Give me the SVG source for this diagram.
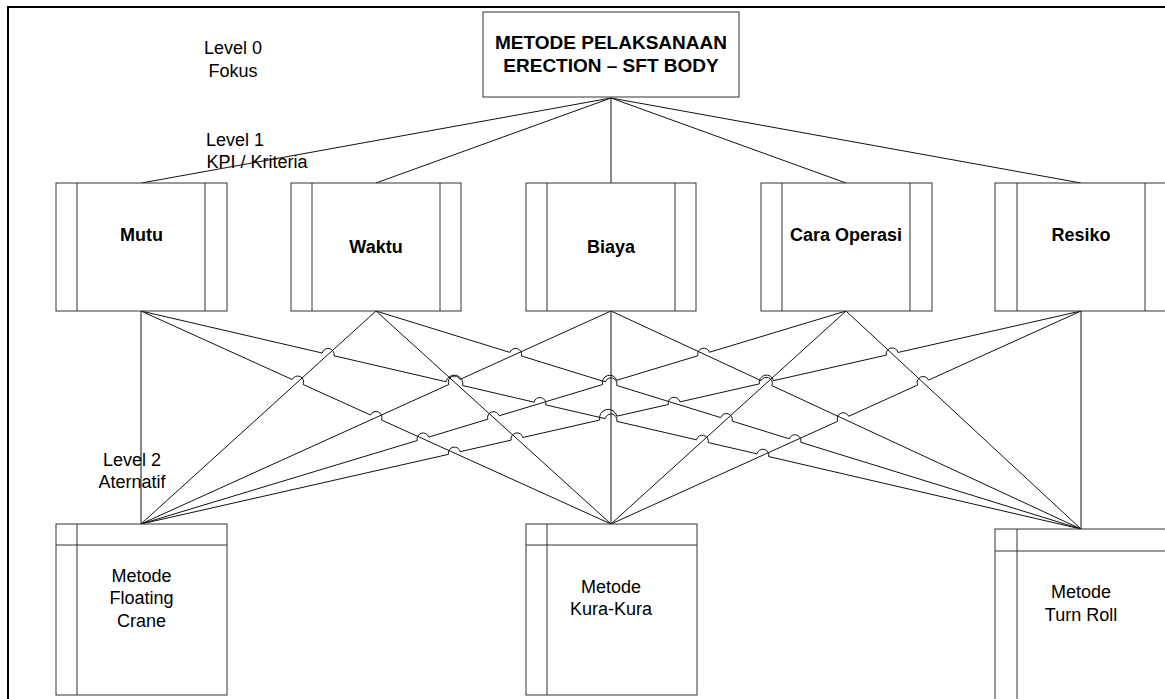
<svg xmlns="http://www.w3.org/2000/svg" width="1165" height="699" viewBox="0 0 1165 699">
<style>
.frame{fill:none;stroke:#000;stroke-width:2}
.box{fill:#fff;stroke:#333;stroke-width:1}
.div{fill:none;stroke:#333;stroke-width:1}
.ln{fill:none;stroke:#111;stroke-width:1}
.lbl{font-family:"Liberation Sans",Arial,sans-serif;font-size:18px;fill:#000;text-anchor:middle}
.b{font-weight:bold}
</style>
<rect width="1165" height="699" fill="#fff"/>
<rect class="frame" x="8" y="7" width="1170" height="700"/>

<g id="labels">
<text class="lbl" x="233" y="54">Level 0</text>
<text class="lbl" x="233" y="77">Fokus</text>
<text class="lbl" x="235" y="146">Level 1</text>
<text class="lbl" x="257" y="168">KPI / Kriteria</text>
<text class="lbl" x="132" y="466">Level 2</text>
<text class="lbl" x="132" y="488">Aternatif</text>
</g>

<g id="connectors">
<path class="ln" d="M611 98L141.5 183M611 98L376 183M611 98L611 183M611 98L846 183M611 98L1081 183"/>
<path class="ln" d="M141 311L141 524"/>
<path class="ln" d="M141 311L292.2 379.52A6 6 0 0 1 303.14 384.48L370.53 415.02A6 6 0 0 1 381.47 419.98L611 524"/>
<path class="ln" d="M141 311L322.28 353.04A6 6 0 0 1 333.97 355.76L446.06 381.74A8.51 8.51 0 0 1 462.65 385.56L534 402.14A6 6 0 0 1 545.69 404.86L605.16 418.64A6 6 0 0 1 616.85 421.36L696.53 439.84A6 6 0 0 1 708.22 442.56L756.98 453.84A6 6 0 0 1 768.67 456.56L1081 529"/>
<path class="ln" d="M376 311L141 524"/>
<path class="ln" d="M376 311L611 524"/>
<path class="ln" d="M376 311L509.96 352.43A6 6 0 0 1 521.42 355.97L605.27 381.9A6 6 0 0 1 616.73 385.44L720.72 417.6A6 6 0 0 1 732.18 421.14L789.34 438.81A6 6 0 0 1 800.8 442.35L1081 529"/>
<path class="ln" d="M141 524L448.87 384.48A6 6 0 0 1 459.8 379.52L611 311"/>
<path class="ln" d="M611 311L611 524"/>
<path class="ln" d="M611 311L761.01 380.58A6 6 0 0 1 771.89 385.62L1081 529"/>
<path class="ln" d="M141 524L417.26 440.54A6 6 0 0 1 428.74 437.07L487.76 419.24A6 6 0 0 1 499.24 415.77L602.54 384.55A7.42 7.42 0 0 1 616.74 380.27L697.95 355.74A6 6 0 0 1 709.43 352.26L846 311"/>
<path class="ln" d="M846 311L611 524"/>
<path class="ln" d="M846 311L1081 529"/>
<path class="ln" d="M141 524L448.48 454.33A6 6 0 0 1 460.18 451.67L511.15 440.13A6 6 0 0 1 522.85 437.47L599.7 420.05A8.79 8.79 0 0 1 616.85 416.17L668.29 404.52A6 6 0 0 1 679.99 401.86L759.4 383.88A7.24 7.24 0 0 1 773.52 380.67L886.28 355.13A6 6 0 0 1 897.98 352.47L1081 311"/>
<path class="ln" d="M611 524L837.81 421.22A6 6 0 0 1 848.74 416.26L917.67 385.03A6 6 0 0 1 928.6 380.07L1081 311"/>
<path class="ln" d="M1081 311L1081 529"/>
</g>

<g id="focus">
<rect class="box" x="483" y="12" width="256" height="85"/>
<text class="lbl b" x="611" y="49" style="font-size:19px">METODE PELAKSANAAN</text>
<text class="lbl b" x="611" y="72" style="font-size:19px">ERECTION – SFT BODY</text>
</g>

<g id="mutu">
<rect class="box" x="56" y="183" width="171" height="128"/>
<path class="div" d="M77 183V311M205 183V311"/>
<text class="lbl b" x="141.5" y="241">Mutu</text>
</g>
<g id="waktu">
<rect class="box" x="291" y="183" width="170" height="128"/>
<path class="div" d="M312 183V311M440 183V311"/>
<text class="lbl b" x="376" y="253">Waktu</text>
</g>
<g id="biaya">
<rect class="box" x="526" y="183" width="170" height="128"/>
<path class="div" d="M547 183V311M675 183V311"/>
<text class="lbl b" x="611" y="253">Biaya</text>
</g>
<g id="cara-operasi">
<rect class="box" x="761" y="183" width="171" height="128"/>
<path class="div" d="M782 183V311M910 183V311"/>
<text class="lbl b" x="846" y="241">Cara Operasi</text>
</g>
<g id="resiko">
<rect class="box" x="995" y="183" width="175" height="128"/>
<path class="div" d="M1017 183V311M1145 183V311"/>
<text class="lbl b" x="1081" y="241">Resiko</text>
</g>

<g id="floating-crane">
<rect class="box" x="56" y="524" width="171" height="171"/>
<path class="div" d="M77 524V695M56 545H227"/>
<text class="lbl" x="141.5" y="582">Metode</text>
<text class="lbl" x="141.5" y="604">Floating</text>
<text class="lbl" x="141.5" y="627">Crane</text>
</g>
<g id="kura-kura">
<rect class="box" x="526" y="524" width="171" height="171"/>
<path class="div" d="M547 524V695M526 545H697"/>
<text class="lbl" x="611" y="593">Metode</text>
<text class="lbl" x="611" y="615">Kura-Kura</text>
</g>
<g id="turn-roll">
<rect class="box" x="995" y="529" width="175" height="175"/>
<path class="div" d="M1017 529V704M995 551H1170"/>
<text class="lbl" x="1081" y="598">Metode</text>
<text class="lbl" x="1081" y="621">Turn Roll</text>
</g>
</svg>
